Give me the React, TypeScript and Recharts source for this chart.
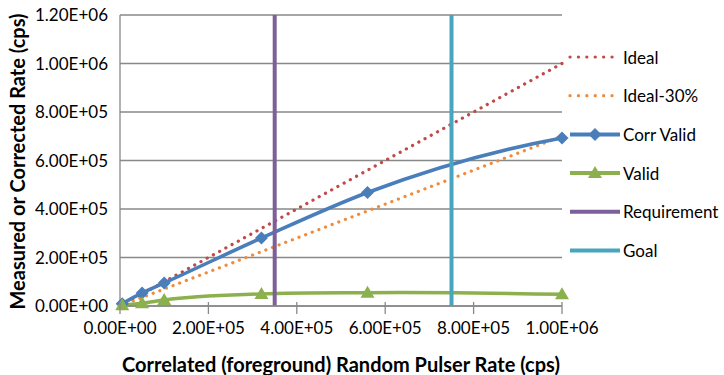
import React from 'react'
import { LineChart, Line, XAxis, YAxis, CartesianGrid, Legend } from 'recharts'

// tick values
const xTicks = [0, 200000, 400000, 600000, 800000, 1000000]
const yTicks = [0, 200000, 400000, 600000, 800000, 1000000, 1200000]

// measured points
const pulserRate = [5000, 50000, 100000, 320000, 560000, 1000000]
const corrValid = [9000, 54000, 95000, 280000, 468000, 693000]
const validRate = [3000, 11000, 25000, 50000, 55000, 48000]

// reference lines
const idealX = [0, 1000000]
const idealY = [0, 1000000]
const ideal30Y = [0, 700000]
const requirementX = 350000
const goalX = 750000
const verticalSpan = [0, 1200000]

const RED = '#BE4B48'
const ORANGE = '#F08B3C'
const BLUE = '#4A7EBB'
const GREEN = '#8DB04E'
const PURPLE = '#7D5F99'
const TEAL = '#48A5C0'
const AXIS = '#898989'
const FONT = 'Lato, "Open Sans", sans-serif'

const toXY = (xs: number[], ys: number[]) => xs.map((x, i) => ({ x, y: ys[i] }))
const corrData = toXY(pulserRate, corrValid)
const validData = toXY(pulserRate, validRate)
const idealData = toXY(idealX, idealY)
const ideal30Data = toXY(idealX, ideal30Y)
const reqData = verticalSpan.map(y => ({ x: requirementX, y }))
const goalData = verticalSpan.map(y => ({ x: goalX, y }))

const sci = (v: number) => {
  if (v === 0) return '0.00E+00'
  const e = Math.floor(Math.log10(Math.abs(v)))
  const m = v / Math.pow(10, e)
  return `${m.toFixed(2)}E+${String(e).padStart(2, '0')}`
}

// spreadsheet-like smoothing: cubic hermite, quadratic end conditions
function smoothCurve(context: any) {
  let xs: number[] = []
  let ys: number[] = []
  return {
    areaStart() {},
    areaEnd() {},
    lineStart() { xs = []; ys = [] },
    point(x: number, y: number) { xs.push(+x); ys.push(+y) },
    lineEnd() {
      const n = xs.length
      if (!n) return
      context.moveTo(xs[0], ys[0])
      if (n < 3) {
        if (n === 2) context.lineTo(xs[1], ys[1])
        return
      }
      const h: number[] = []
      const s: number[] = []
      for (let i = 0; i < n - 1; i++) {
        h[i] = xs[i + 1] - xs[i]
        s[i] = (ys[i + 1] - ys[i]) / h[i]
      }
      const t: number[] = []
      for (let i = 1; i < n - 1; i++) t[i] = (s[i - 1] * h[i] + s[i] * h[i - 1]) / (h[i - 1] + h[i])
      t[0] = 2 * s[0] - t[1]
      t[n - 1] = 2 * s[n - 2] - t[n - 2]
      for (let i = 0; i < n - 1; i++) {
        context.bezierCurveTo(
          xs[i] + h[i] / 3, ys[i] + (t[i] * h[i]) / 3,
          xs[i + 1] - h[i] / 3, ys[i + 1] - (t[i + 1] * h[i]) / 3,
          xs[i + 1], ys[i + 1],
        )
      }
    },
  }
}

const legendItems = [
  { name: 'Ideal', color: RED, kind: 'dots' },
  { name: 'Ideal-30%', color: ORANGE, kind: 'dots' },
  { name: 'Corr Valid', color: BLUE, kind: 'diamond' },
  { name: 'Valid', color: GREEN, kind: 'triangle' },
  { name: 'Requirement', color: PURPLE, kind: 'line' },
  { name: 'Goal', color: TEAL, kind: 'line' },
]

function Diamond({ cx, cy, color }: { cx: number; cy: number; color: string }) {
  const r = 6.5
  return <polygon points={`${cx},${cy - r} ${cx + r},${cy} ${cx},${cy + r} ${cx - r},${cy}`} fill={color} />
}

function Triangle({ cx, cy, color }: { cx: number; cy: number; color: string }) {
  return <polygon points={`${cx},${cy - 7} ${cx + 7},${cy + 5} ${cx - 7},${cy + 5}`} fill={color} />
}

function XTick(props: any) {
  const { x, y, payload } = props
  return (
    <g>
      <line x1={x} x2={x} y1={y - 6} y2={y + 6} stroke={AXIS} strokeWidth={1.3} />
      <text x={x} y={y + 26} textAnchor="middle" fontSize={17} fontFamily={FONT} fill="#000">
        {sci(payload.value)}
      </text>
    </g>
  )
}

function YLabel(props: any) {
  const { viewBox } = props
  const cx = viewBox.x + 17
  const cy = viewBox.y + viewBox.height / 2 + 1
  return (
    <text x={cx} y={cy} transform={`rotate(-90 ${cx} ${cy})`} textAnchor="middle" dominantBaseline="central"
      fontSize={20} fontWeight="bold" fontFamily={FONT} fill="#000">
      Measured or Corrected Rate (cps)
    </text>
  )
}

function LegendBox() {
  return (
    <svg width={156} height={232} style={{ display: 'block', overflow: 'visible' }}>
      {legendItems.map((it, i) => {
        const y = 17 + i * 38.7
        return (
          <g key={it.name}>
            {it.kind === 'dots' ? (
              <line x1={4} x2={54} y1={y} y2={y} stroke={it.color} strokeWidth={3.2}
                strokeDasharray="0.1 8.3" strokeLinecap="round" />
            ) : (
              <line x1={4} x2={54} y1={y} y2={y} stroke={it.color} strokeWidth={4} />
            )}
            {it.kind === 'diamond' && <Diamond cx={29} cy={y} color={it.color} />}
            {it.kind === 'triangle' && <Triangle cx={29} cy={y} color={it.color} />}
            <text x={57} y={y} dominantBaseline="central" fontSize={17} fontFamily={FONT} fill="#000">{it.name}</text>
          </g>
        )
      })}
    </svg>
  )
}

export default function App() {
  return (
    <div style={{ position: 'absolute', left: 0, top: 0, background: '#fff' }}>
      <LineChart width={724} height={375} margin={{ top: 15, right: 6, bottom: 0, left: 0 }}>
        <CartesianGrid horizontal vertical={false} stroke={AXIS} strokeWidth={1.3} />
        <XAxis
          type="number"
          dataKey="x"
          domain={[0, 1000000]}
          ticks={xTicks}
          height={69}
          tickSize={0}
          tickLine={false}
          tick={<XTick />}
          stroke={AXIS}
          strokeWidth={1.3}
          label={{
            value: 'Correlated (foreground) Random Pulser Rate (cps)',
            position: 'insideBottom',
            offset: 3,
            style: { fontSize: 20, fontWeight: 'bold', fontFamily: FONT, fill: '#000' },
          }}
        />
        <YAxis
          type="number"
          dataKey="y"
          domain={[0, 1200000]}
          ticks={yTicks}
          width={120}
          tickSize={0}
          tickMargin={12}
          tickLine={false}
          tickFormatter={sci}
          tick={{ fontSize: 17, fontFamily: FONT, fill: '#000' }}
          stroke={AXIS}
          strokeWidth={1.3}
          label={<YLabel />}
        />
        <Legend
          layout="vertical"
          align="right"
          verticalAlign="top"
          wrapperStyle={{ top: 40, left: 566, width: 156 }}
          content={() => <LegendBox />}
        />
        <Line data={idealData} dataKey="y" name="Ideal" type="linear" stroke={RED} strokeWidth={3.2}
          strokeDasharray="0.1 7" strokeLinecap="round" dot={false} isAnimationActive={false} />
        <Line data={ideal30Data} dataKey="y" name="Ideal-30%" type="linear" stroke={ORANGE} strokeWidth={3.2}
          strokeDasharray="0.1 7" strokeLinecap="round" dot={false} isAnimationActive={false} />
        <Line data={corrData} dataKey="y" name="Corr Valid" type={smoothCurve as any} stroke={BLUE} strokeWidth={3.5}
          dot={(p: any) => <Diamond key={p.index} cx={p.cx} cy={p.cy} color={BLUE} />} isAnimationActive={false} />
        <Line data={validData} dataKey="y" name="Valid" type={smoothCurve as any} stroke={GREEN} strokeWidth={3.5}
          dot={(p: any) => <Triangle key={p.index} cx={p.cx} cy={p.cy} color={GREEN} />} isAnimationActive={false} />
        <Line data={reqData} dataKey="y" name="Requirement" type="linear" stroke={PURPLE} strokeWidth={4}
          dot={false} isAnimationActive={false} />
        <Line data={goalData} dataKey="y" name="Goal" type="linear" stroke={TEAL} strokeWidth={4}
          dot={false} isAnimationActive={false} />
      </LineChart>
    </div>
  )
}
